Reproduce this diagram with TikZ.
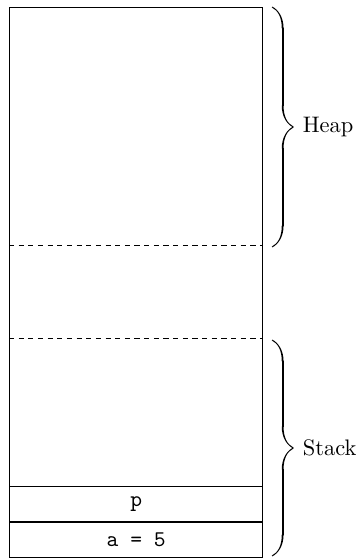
\documentclass[tikz,border=0pt]{standalone}
\usetikzlibrary{decorations.pathreplacing,calligraphy,positioning}
\begin{document}
\begin{tikzpicture}[x=0.01565cm,y=-0.01565cm,
  memcol/.style={draw,semithick,minimum width=3.96cm,minimum height=8.61cm,inner sep=0pt},
  cell/.style={draw,semithick,minimum width=3.96cm,minimum height=0.548cm,inner sep=0pt,font=\ttfamily},
  membrace/.style={decorate,decoration={calligraphic brace,amplitude=9.5pt},line width=0.8pt},
  limit/.style={dash pattern=on 2.3pt off 2pt}]
  \useasboundingbox (0,0) rectangle (362,558);
  \node[memcol,anchor=north west] (mem) at (9,7) {};
  \node[cell,anchor=south] (a) at (mem.south) {a = 5};
  \node[cell,above=0pt of a] (p) {p};
  % heap / stack limits
  \coordinate (heapend) at (0,245);
  \coordinate (stacktop) at (0,338);
  \draw[limit] (mem.west |- heapend) -- (mem.east |- heapend);
  \draw[limit] (mem.west |- stacktop) -- (mem.east |- stacktop);
  % braces
  \coordinate (heaptop) at (272,7);
  \coordinate (heapbot) at (272,247);
  \coordinate (stacktopb) at (272,340);
  \coordinate (stackbot) at (272,556);
  \draw[membrace] (heaptop) -- (heapbot) node[midway,right=10pt] (heap) {Heap};
  \draw[membrace] (stacktopb) -- (stackbot) node[midway,right=10pt] (stack) {Stack};
\end{tikzpicture}
\end{document}
